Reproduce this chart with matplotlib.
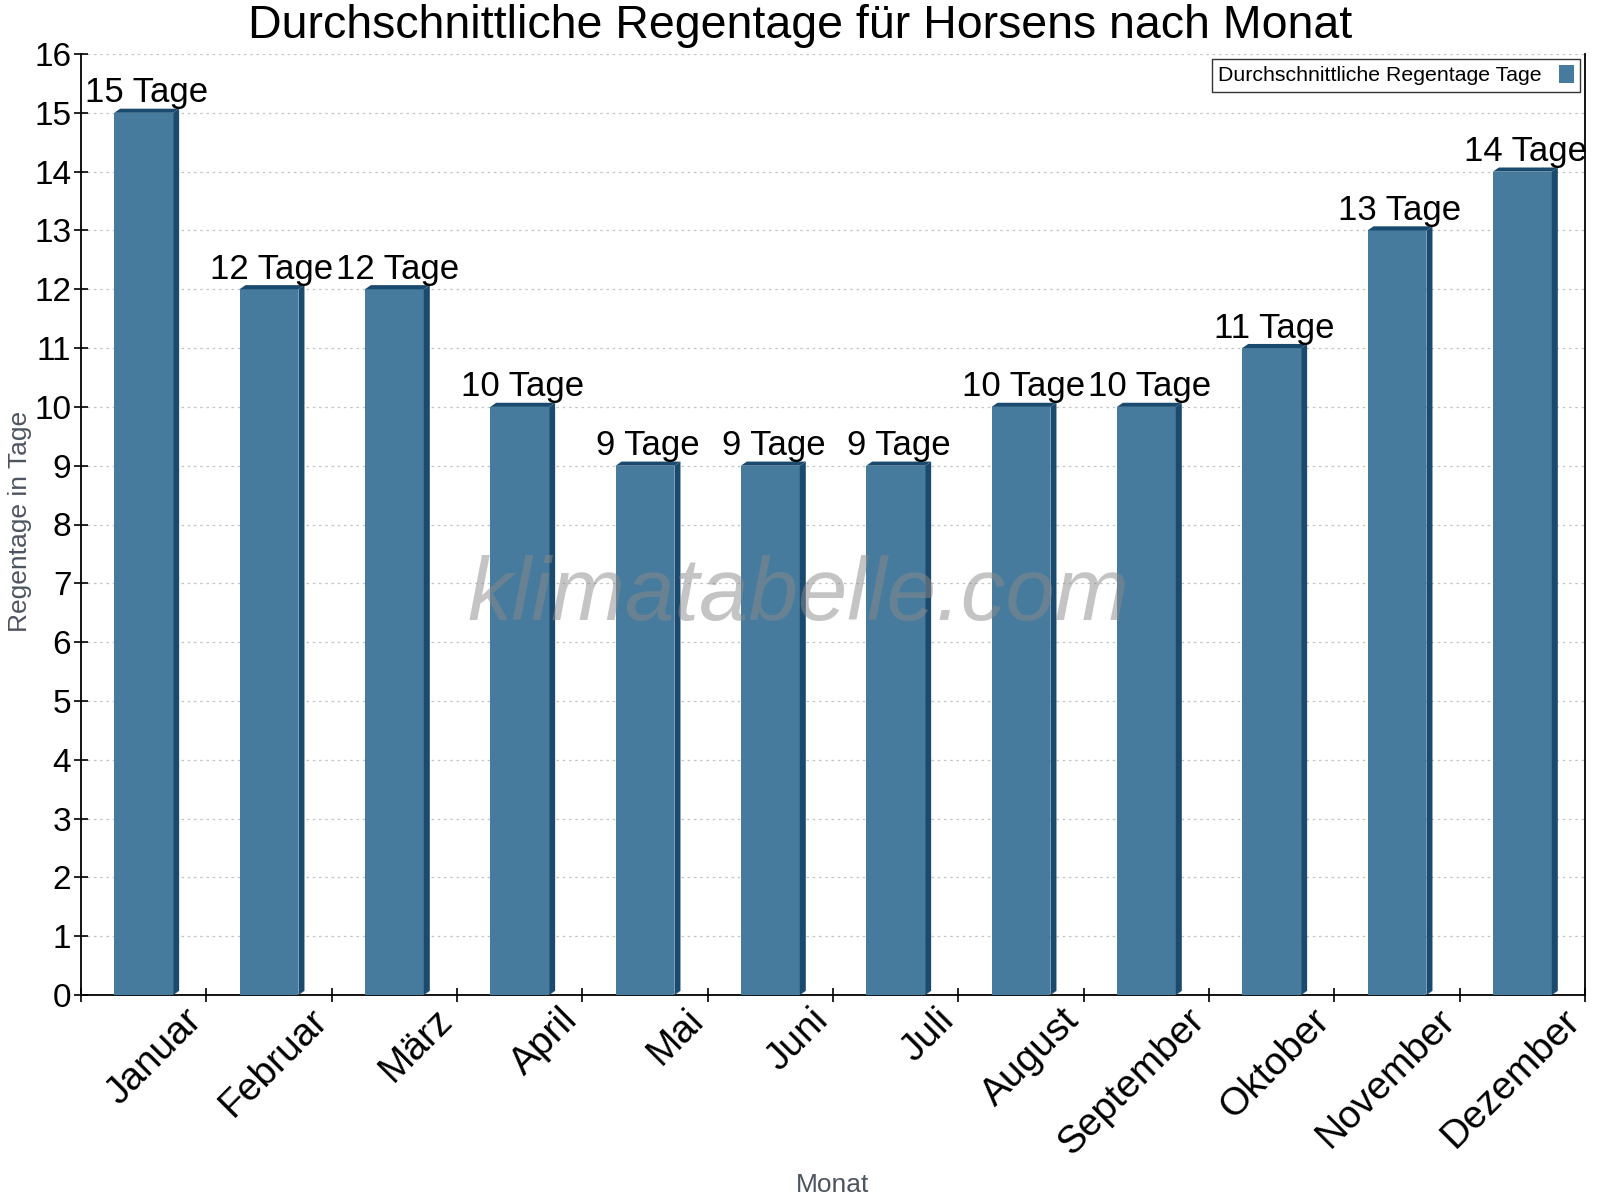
import matplotlib.pyplot as plt
import matplotlib.transforms as mtransforms
from matplotlib.patches import Polygon
import numpy as np

plt.rcParams['font.family'] = ['Liberation Sans', 'DejaVu Sans']

months = ['Januar', 'Februar', 'März', 'April', 'Mai', 'Juni', 'Juli',
          'August', 'September', 'Oktober', 'November', 'Dezember']
rain_days = [15, 12, 12, 10, 9, 9, 9, 10, 10, 11, 13, 14]
series_name = 'Durchschnittliche Regentage Tage'

FRONT = '#467b9d'
SIDE = '#1a4a6e'

fig = plt.figure(figsize=(16, 12), dpi=100)
ax = fig.add_axes([81 / 1600, 1 - 995 / 1200, (1585 - 81) / 1600, (995 - 54) / 1200])

x = np.arange(len(months))
width = 0.47
bars = ax.bar(x, rain_days, width=width, color=FRONT, zorder=3, label=series_name)

# fake 3d side/top faces
dx, dy = 0.048, 0.07
for b in bars:
    x0 = b.get_x()
    x1 = x0 + b.get_width()
    h = b.get_height()
    side = Polygon([(x1, 0), (x1 + dx, dy), (x1 + dx, h + dy), (x1, h)],
                   closed=True, facecolor=SIDE, edgecolor='none', zorder=3)
    top = Polygon([(x0, h), (x0 + dx, h + dy), (x1 + dx, h + dy), (x1, h)],
                  closed=True, facecolor=SIDE, edgecolor='none', zorder=3)
    ax.add_patch(side)
    ax.add_patch(top)
    ax.text(b.get_x() + b.get_width() / 2 + dx / 2, h + 0.06, f'{h:g} Tage',
            ha='center', va='bottom', fontsize=25, zorder=4)

ax.set_xlim(-0.5, len(months) - 0.5)
ax.set_ylim(0, 16)
ax.set_yticks(range(0, 17))
ax.set_xticks(np.arange(-0.5, len(months), 1.0))
ax.set_xticklabels([])
ax.set_xticks(x, minor=True)
ax.set_xticklabels(months, minor=True, rotation=45, ha='right', va='top',
                   rotation_mode='anchor', fontsize=28)
ax.tick_params(axis='x', which='minor', length=0, pad=0)
offset = mtransforms.ScaledTranslation(40 / 100, -7 / 100, fig.dpi_scale_trans)
for lbl in ax.get_xticklabels(minor=True):
    lbl.set_transform(lbl.get_transform() + offset)
ax.tick_params(axis='x', which='major', direction='inout', length=10, width=1.2)
ax.tick_params(axis='y', direction='inout', length=10, width=1.2, labelsize=24, pad=2)

ax.grid(axis='y', linestyle=(0, (2, 3)), color='#c4c4c4', linewidth=0.9, zorder=0)
ax.spines['top'].set_visible(False)
for s in ['left', 'bottom', 'right']:
    ax.spines[s].set_linewidth(1.3)

fig.text(0.5, 1 - 4 / 1200, 'Durchschnittliche Regentage für Horsens nach Monat',
         ha='center', va='top', fontsize=33.5)
ax.set_xlabel('Monat', fontsize=19, color='#4d5560')
ax.xaxis.set_label_coords(0.5, -0.189)
ax.set_ylabel('Regentage in Tage', fontsize=19, color='#4d5560')
ax.yaxis.set_label_coords(-0.0326, 0.503)

ax.text(0.477, 0.423, 'klimatabelle.com', transform=ax.transAxes, ha='center', va='center',
        fontsize=64, style='italic', color='#8a8a8a', alpha=0.5, zorder=5)

leg = ax.legend(loc='upper right', fontsize=15.3, frameon=True, fancybox=False,
                edgecolor='black', markerfirst=False, handlelength=0.7,
                handleheight=0.9, bbox_to_anchor=(0.9967, 0.995), borderpad=0.3,
                borderaxespad=0, handletextpad=0.8)
leg.get_frame().set_linewidth(1.0)

fig.savefig('out.png', dpi=100)
